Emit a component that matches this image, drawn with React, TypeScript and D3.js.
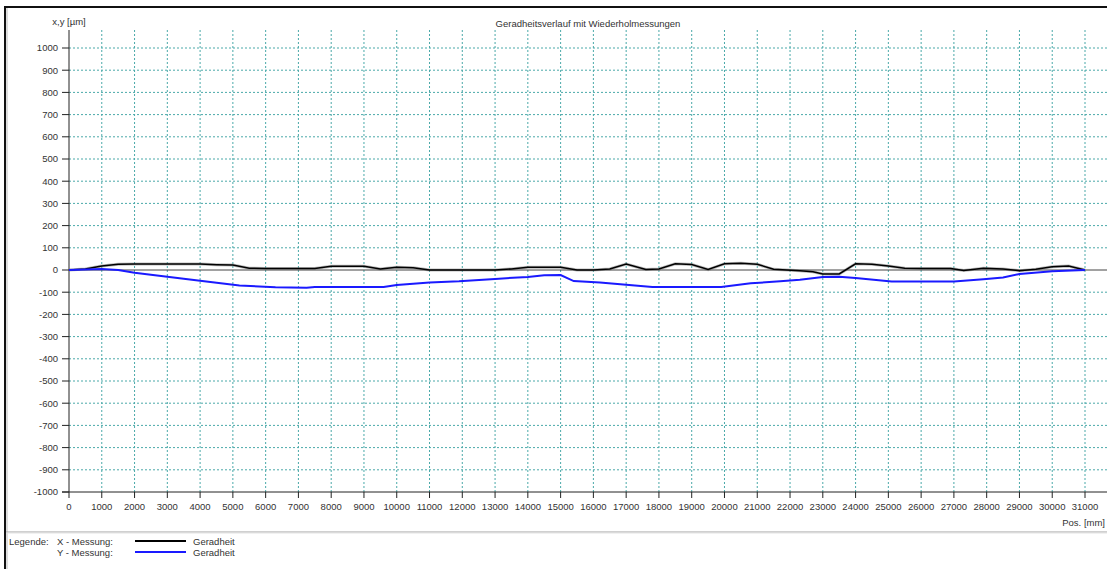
import { line, scaleLinear, range } from "d3";

const WIDTH = 1107;
const HEIGHT = 569;

// plot area in px
const PLOT = { left: 69, top: 30, bottom: 492, right: 1107 };

const TITLE = "Geradheitsverlauf mit Wiederholmessungen";
const Y_TITLE = "x,y [µm]";
const X_TITLE = "Pos. [mm]";

const yTicks = range(-1000, 1001, 100);
const xTicks = range(0, 31001, 1000);

// X - Messung (black)
const xPos = [0, 500, 1000, 1500, 2000, 3000, 4000, 4500, 5000, 5500, 6000, 7000, 7500, 8000, 9000, 9500, 10000, 10500, 11000, 12000, 13000, 13500, 14000, 15000, 15500, 16000, 16500, 17000, 17600, 18000, 18500, 19000, 19500, 20000, 20500, 21000, 21500, 22300, 22700, 23000, 23500, 24000, 24500, 25000, 25500, 26000, 26900, 27300, 27900, 28500, 29000, 29500, 30000, 30500, 31000];
const xVals = [0, 5, 18, 26, 27, 27, 27, 24, 22, 8, 7, 7, 7, 17, 17, 5, 12, 10, 0, 0, 0, 5, 12, 12, 0, 0, 5, 27, 2, 5, 28, 25, 2, 28, 30, 26, 3, -3, -8, -18, -18, 28, 26, 18, 8, 7, 7, -2, 8, 5, -3, 3, 15, 18, 0];

// Y - Messung (blue)
const yPos = [0, 1000, 1500, 2000, 3000, 4000, 5200, 6300, 7250, 7500, 9600, 10000, 10500, 11000, 11900, 13000, 14000, 14500, 15000, 15400, 16200, 17000, 17800, 19900, 20800, 21700, 22300, 23000, 23500, 24000, 25100, 27000, 27900, 28500, 29000, 30000, 31000];
const yVals = [0, 5, 0, -12, -30, -48, -70, -78, -80, -77, -77, -68, -62, -56, -51, -40, -31, -24, -23, -50, -56, -66, -77, -77, -60, -51, -44, -32, -30, -36, -52, -52, -42, -34, -18, -6, 0];

const legendLabels = ["X - Messung:", "Y - Messung:"];
const legendColors = ["#000000", "#1a1aff"];

const FONT = "'Liberation Sans', Arial, sans-serif";

export default function App() {
  const xScale = scaleLinear().domain([0, 31000]).range([69, 1085]);
  const yScale = scaleLinear().domain([-1000, 1000]).range([PLOT.bottom, 48]);

  const toLine = (px: number[], vals: number[]) =>
    line<number>()
      .x((_, i) => xScale(px[i]))
      .y((d) => yScale(d))(vals) || "";

  const gridColor = "#4aa9a9";

  return (
    <svg
      width={WIDTH}
      height={HEIGHT}
      style={{ position: "fixed", left: 0, top: 0, background: "#fff" }}
      fontFamily={FONT}
    >
      <rect width={WIDTH} height={HEIGHT} fill="#fff" />
      {/* frame */}
      <line x1={5} x2={WIDTH} y1={7} y2={7} stroke="#111" strokeWidth={2} />
      <line x1={5} x2={5} y1={6} y2={HEIGHT} stroke="#111" strokeWidth={2} />
      <line x1={7} x2={7} y1={8} y2={HEIGHT} stroke="#bbb" strokeWidth={1} />

      <text x={588} y={27} textAnchor="middle" fontSize={9.5} fill="#333">
        {TITLE}
      </text>
      <text x={69} y={25} textAnchor="middle" fontSize={9.5} fill="#333">
        {Y_TITLE}
      </text>

      {/* horizontal grid */}
      {yTicks.map((v) => (
        <g key={"y" + v}>
          {v !== 0 && v !== -1000 && (
            <line
              x1={PLOT.left}
              x2={PLOT.right}
              y1={yScale(v)}
              y2={yScale(v)}
              stroke={gridColor}
              strokeWidth={1}
              strokeDasharray="2,2"
            />
          )}
          <line x1={62} x2={PLOT.left} y1={yScale(v)} y2={yScale(v)} stroke="#222" />
          <text
            x={58}
            y={yScale(v)}
            dy="0.35em"
            textAnchor="end"
            fontSize={9.5}
            fill="#333"
          >
            {v}
          </text>
        </g>
      ))}

      {/* vertical grid */}
      {xTicks.map((v) => (
        <g key={"x" + v}>
          {v !== 0 && (
            <line
              x1={xScale(v)}
              x2={xScale(v)}
              y1={PLOT.top}
              y2={PLOT.bottom}
              stroke={gridColor}
              strokeWidth={1}
              strokeDasharray="2,2"
            />
          )}
          <line
            x1={xScale(v)}
            x2={xScale(v)}
            y1={PLOT.bottom}
            y2={PLOT.bottom + 6}
            stroke="#222"
          />
          <text x={xScale(v)} y={510} textAnchor="middle" fontSize={9.5} fill="#333">
            {v}
          </text>
        </g>
      ))}

      {/* axes */}
      <line x1={PLOT.left} x2={PLOT.left} y1={PLOT.top} y2={PLOT.bottom} stroke="#222" />
      <line x1={62} x2={PLOT.right} y1={PLOT.bottom} y2={PLOT.bottom} stroke="#222" />
      <line x1={PLOT.left} x2={PLOT.right} y1={yScale(0)} y2={yScale(0)} stroke="#444" />

      <text x={1105} y={526} textAnchor="end" fontSize={9.5} fill="#333">
        {X_TITLE}
      </text>

      {/* series */}
      <path d={toLine(xPos, xVals)} fill="none" stroke="#7a7a7a" strokeWidth={3} opacity={0.5} />
      <path d={toLine(xPos, xVals)} fill="none" stroke="#000" strokeWidth={1.5} />
      <path d={toLine(yPos, yVals)} fill="none" stroke="#1a1aff" strokeWidth={2} />

      {/* separator */}
      <line x1={6} x2={WIDTH} y1={532} y2={532} stroke="#a0a0a0" />
      <line x1={6} x2={WIDTH} y1={533} y2={533} stroke="#e4e4e4" />

      {/* legend */}
      <text x={9} y={545} fontSize={9.5} fill="#333">
        Legende:
      </text>
      {legendLabels.map((lab, i) => (
        <g key={lab}>
          <text x={57} y={545 + i * 11} fontSize={9.5} fill="#333">
            {lab}
          </text>
          <line
            x1={135}
            x2={186}
            y1={541 + i * 11}
            y2={541 + i * 11}
            stroke={legendColors[i]}
            strokeWidth={2}
          />
          <text x={193} y={545 + i * 11} fontSize={9.5} fill="#333">
            Geradheit
          </text>
        </g>
      ))}
    </svg>
  );
}
